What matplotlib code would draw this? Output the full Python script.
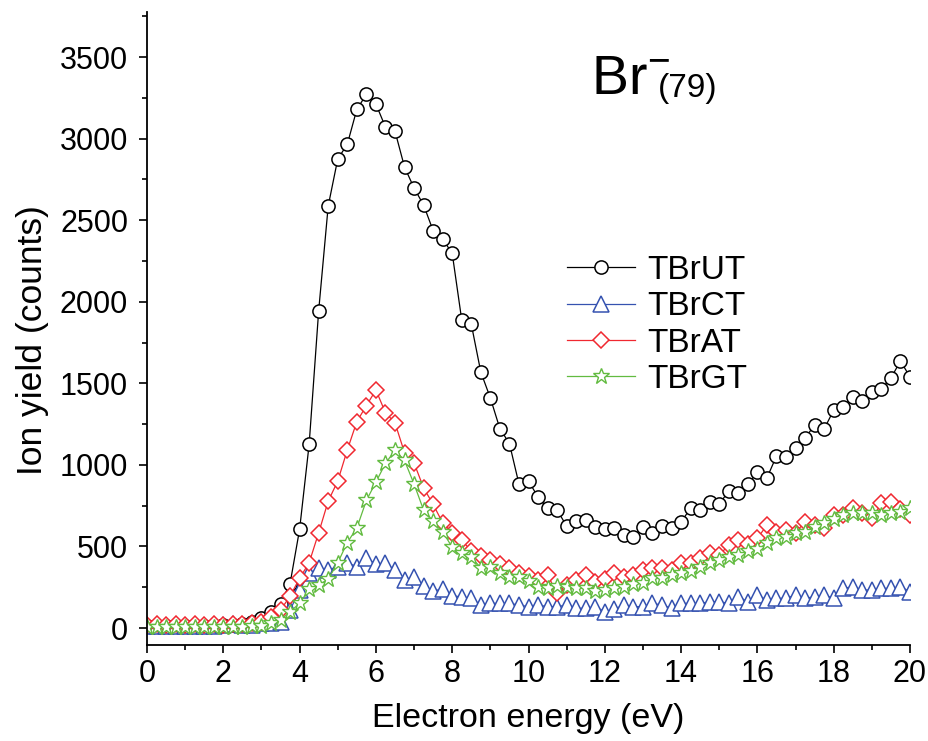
import matplotlib.pyplot as plt
import numpy as np
from matplotlib.ticker import MultipleLocator

plt.rcParams['font.family'] = ['Liberation Sans', 'DejaVu Sans']
plt.rcParams['mathtext.fontset'] = 'custom'
plt.rcParams['mathtext.rm'] = 'Liberation Sans'

# electron energy grid, 0.25 eV steps
energy = np.linspace(0, 20, 81)

tbrut = [10, 15, 10, 15, 10, 15, 12, 15, 18, 20, 25, 40,
         60, 100, 150, 272, 605, 1126, 1945, 2587, 2875, 2965, 3179, 3271,
         3212, 3071, 3046, 2826, 2697, 2593, 2436, 2384, 2297, 1888, 1863, 1569,
         1410, 1222, 1131, 883, 901, 803, 735, 723, 625, 656, 662, 619,
         607, 613, 570, 558, 619, 582, 625, 613, 650, 735, 723, 772,
         760, 840, 828, 883, 956, 920, 1054, 1048, 1103, 1165, 1244, 1220,
         1336, 1355, 1416, 1392, 1447, 1465, 1532, 1637, 1539]

tbrct = [15, 15, 15, 15, 15, 15, 15, 15, 20, 25, 20, 20,
         30, 30, 39, 110, 233, 335, 366, 356, 376, 400, 376, 430,
         392, 396, 356, 294, 315, 257, 229, 237, 196, 192, 182, 141,
         151, 151, 151, 141, 131, 141, 131, 131, 141, 121, 121, 131,
         100, 115, 141, 131, 131, 151, 141, 121, 151, 151, 151, 161,
         161, 151, 192, 161, 202, 172, 182, 182, 202, 182, 192, 202,
         182, 243, 253, 233, 233, 243, 243, 253, 223]

tbrat = [20, 22, 20, 22, 20, 22, 20, 22, 20, 22, 25, 30,
         40, 70, 110, 195, 305, 400, 584, 778, 901, 1091, 1265, 1363,
         1459, 1320, 1258, 1075, 1012, 859, 758, 645, 584, 539, 472, 441,
         417, 395, 365, 337, 319, 294, 325, 213, 264, 294, 325, 284,
         298, 335, 311, 325, 356, 366, 366, 356, 400, 398, 427, 462,
         447, 509, 539, 515, 550, 631, 590, 601, 584, 652, 631, 611,
         693, 693, 733, 703, 672, 764, 774, 727, 693]

tbrgt = [5, 5, 5, 5, 5, 5, 5, 5, 5, 5, 8, 10,
         12, 29, 49, 100, 151, 238, 264, 300, 400, 524, 613, 782,
         894, 1009, 1089, 1027, 883, 723, 656, 590, 495, 458, 433, 370,
         376, 335, 311, 310, 290, 253, 243, 260, 253, 243, 243, 229,
         233, 243, 253, 272, 278, 304, 304, 324, 338, 351, 376, 400,
         417, 437, 447, 474, 482, 519, 550, 560, 580, 590, 621, 642,
         666, 693, 703, 703, 703, 693, 703, 713, 733]

fig = plt.figure(figsize=(9.29, 7.41), dpi=100)
ax = fig.add_axes([147/929, 96/741, 763/929, 633/741])

ax.plot(energy, tbrut, color='black', lw=0.9, marker='o', ms=9.5,
        mfc='white', mec='black', mew=1.1, label='TBrUT')
ax.plot(energy, tbrct, color='#3552b0', lw=0.9, marker='^', ms=11,
        mfc='white', mec='#3552b0', mew=1.1, label='TBrCT')
ax.plot(energy, tbrat, color='#f02830', lw=0.9, marker='D', ms=8.5,
        mfc='white', mec='#f02830', mew=1.1, label='TBrAT')
ax.plot(energy, tbrgt, color='#62bb40', lw=0.9, marker='*', ms=12,
        mfc='white', mec='#62bb40', mew=1.0, label='TBrGT')

ax.set_xlim(0, 20)
ax.set_ylim(-104, 3776)
ax.spines['top'].set_visible(False)
ax.spines['right'].set_visible(False)
for s in ['left', 'bottom']:
    ax.spines[s].set_linewidth(1.3)

ax.xaxis.set_major_locator(MultipleLocator(2))
ax.xaxis.set_minor_locator(MultipleLocator(1))
ax.yaxis.set_major_locator(MultipleLocator(500))
ax.yaxis.set_minor_locator(MultipleLocator(250))
ax.tick_params(which='major', direction='out', length=6, width=1.2,
               labelsize=22)
ax.tick_params(axis='x', which='major', pad=4)
ax.tick_params(axis='y', which='major', pad=7.5)
ax.tick_params(which='minor', direction='out', length=3.5, width=1.2)

ax.set_xlabel('Electron energy (eV)', fontsize=24.5, labelpad=10)
ax.set_ylabel('Ion yield (counts)', fontsize=25.5)
ax.yaxis.set_label_coords(-0.128, 0.482)

ax.legend(loc='upper left', bbox_to_anchor=(567/929, 1 - 255/741),
          bbox_transform=fig.transFigure, frameon=False, fontsize=24,
          handlelength=2.05, handletextpad=0.36, labelspacing=0.16,
          borderpad=0, borderaxespad=0, numpoints=1)

# ion label: Br with superscript minus, then the mass number
fig.text(591/929, 1 - 94/741, r'Br$^{\mathregular{-}}$', fontsize=40,
         va='baseline', ha='left')
fig.text(658/929, 1 - 97/741, '(79)', fontsize=24, va='baseline', ha='left')

fig.savefig('out.png', dpi=100)
